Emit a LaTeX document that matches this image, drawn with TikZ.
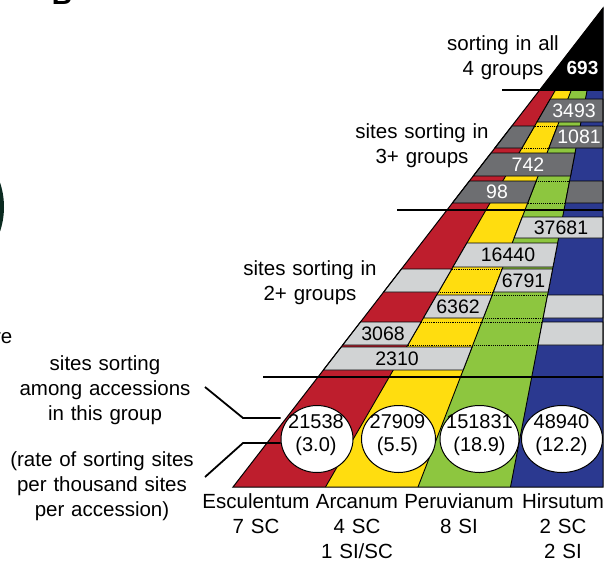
\documentclass[tikz,border=0pt]{standalone}
\usepackage{fontspec}
\setmainfont{Liberation Sans}
\usetikzlibrary{calc,shapes.geometric}
\definecolor{cred}{HTML}{BE1E2D}
\definecolor{cyel}{HTML}{FFDD0F}
\definecolor{cgrn}{HTML}{8DC63F}
\definecolor{cblu}{HTML}{2B3990}
\definecolor{dgray}{HTML}{6D6E71}
\definecolor{lgray}{HTML}{D1D3D4}
\definecolor{dkgreen}{HTML}{0B2A20}
\newcommand\labfont{\fontsize{20.5}{25}\selectfont}
\newcommand\numfont{\fontsize{19.5}{23}\selectfont}
\newcommand\ellfont{\fontsize{20}{23.5}\selectfont}
% \trap{y1}{y2}{i}{j}{style}
\newcommand\trap[5]{%
  \pgfmathsetmacro\ta{(#1-8)/479}\pgfmathsetmacro\tb{(#2-8)/479}%
  \path[#5] ($(A)!\ta!(B#3)$) -- ($(A)!\ta!(B#4)$)
    -- ($(A)!\tb!(B#4)$) -- ($(A)!\tb!(B#3)$) -- cycle;}
% \dotl{y}{i}{j}
\newcommand\dotl[3]{%
  \pgfmathsetmacro\ta{(#1-8)/479}%
  \draw[dotline] ($(A)!\ta!(B#2)$) -- ($(A)!\ta!(B#3)$);}
\begin{document}
\begin{tikzpicture}[x=1pt,y=-1pt,
  dbox/.style={fill=dgray,draw=black,line width=0.9pt,line join=miter},
  lbox/.style={fill=lgray,draw=black,line width=0.9pt,line join=miter},
  dotline/.style={black,densely dotted,line width=0.9pt},
  sepline/.style={black,line width=2pt},
  conn/.style={black,line width=1.8pt},
  lab/.style={font=\labfont,text width=220pt,align=center,inner sep=0pt,anchor=base},
  wnum/.style={font=\numfont,text=white,inner sep=0pt},
  bnum/.style={font=\numfont,text=black,inner sep=0pt},
  ell/.style={ellipse,draw=black,fill=white,line width=1pt,inner sep=0pt},
  etext/.style={font=\ellfont,text width=100pt,align=center,inner sep=0pt,anchor=base}]
\useasboundingbox (0,0) rectangle (607,563);

% partial elements at the left edge
\fill[dkgreen] (-73,207) circle[radius=77];
\node[font=\fontsize{28}{30}\selectfont\bfseries,inner sep=0pt,anchor=base] (panel) at (62,4.5) {B};
\node[font=\labfont,inner sep=0pt,anchor=base east] (cut) at (12.5,343) {re};

% triangle geometry
\coordinate (A) at (603,8);
\coordinate (B0) at (233,487);
\coordinate (B1) at (325.5,487);
\coordinate (B2) at (418,487);
\coordinate (B3) at (510.5,487);
\coordinate (B4) at (603,487);

\fill[cred] (A) -- (B0) -- (B1) -- cycle;
\fill[cyel] (A) -- (B1) -- (B2) -- cycle;
\fill[cgrn] (A) -- (B2) -- (B3) -- cycle;
\fill[cblu] (A) -- (B3) -- (B4) -- cycle;
\draw[line width=0.9pt] (A) -- (B1) (A) -- (B2) (A) -- (B3);

% all 4 groups
\pgfmathsetmacro\tz{(90.5-8)/479}
\fill[black] (A) -- ($(A)!\tz!(B0)$) -- ($(A)!\tz!(B4)$) -- cycle;

% 3+ groups
\trap{99}{122}{1}{4}{dbox}
\trap{126}{148}{0}{1}{dbox}
\trap{126}{148}{2}{4}{dbox}
\dotl{126}{1}{2}\dotl{148}{1}{2}
\trap{153}{176}{0}{3}{dbox}
\trap{181}{203}{0}{2}{dbox}
\trap{181}{203}{3}{4}{dbox}
\dotl{181}{2}{3}\dotl{203}{2}{3}

% 2+ groups
\trap{217}{238}{2}{4}{lbox}
\trap{243}{267}{1}{3}{lbox}
\trap{269}{292}{0}{1}{lbox}
\trap{269}{292}{2}{3}{lbox}
\dotl{269}{1}{2}\dotl{292}{1}{2}
\trap{295}{318}{1}{2}{lbox}
\trap{295}{318}{3}{4}{lbox}
\dotl{295}{2}{3}\dotl{318}{2}{3}
\trap{322}{345}{0}{1}{lbox}
\trap{322}{345}{3}{4}{lbox}
\dotl{322}{1}{3}\dotl{345}{1}{3}
\trap{347}{370}{0}{2}{lbox}

% outline
\draw[line width=1pt,line join=miter] (A) -- (B0) -- (B4) -- cycle;

% separators
\coordinate (s1a) at (502,90);  \coordinate (s1b) at (603,90);
\coordinate (s2a) at (397,210); \coordinate (s2b) at (603,210);
\coordinate (s3a) at (263,376.5); \coordinate (s3b) at (603,376.5);
\draw[sepline] (s1a) -- (s1b);
\draw[sepline] (s2a) -- (s2b);
\draw[sepline] (s3a) -- (s3b);

% numbers
\node[wnum,font=\fontsize{19}{23}\selectfont\bfseries] (n693) at (582.5,68.3) {693};
\node[wnum] (n3493) at (574,110.5) {3493};
\node[wnum] (n1081) at (579,137) {1081};
\node[wnum] (n742) at (528,164.5) {742};
\node[wnum] (n98) at (497,192) {98};
\node[bnum] (n37681) at (561,227.5) {37681};
\node[bnum] (n16440) at (508,255) {16440};
\node[bnum] (n6791) at (523.5,280.5) {6791};
\node[bnum] (n6362) at (458,306.5) {6362};
\node[bnum] (n3068) at (383,333.5) {3068};
\node[bnum] (n2310) at (397,358.5) {2310};

% ellipses
\node[ell,minimum width=72pt,minimum height=67pt] (e1) at (317,439) {};
\node[ell,minimum width=74pt,minimum height=67pt] (e2) at (398.5,439) {};
\node[ell,minimum width=79pt,minimum height=67pt] (e3) at (479.5,439) {};
\node[ell,minimum width=81pt,minimum height=67pt] (e4) at (562,439) {};
\node[etext] (x1) at (316,428) {21538\\(3.0)};
\node[etext] (x2) at (397.5,428) {27909\\(5.5)};
\node[etext] (x3) at (479.5,428) {151831\\(18.9)};
\node[etext] (x4) at (561.5,428) {48940\\(12.2)};

% labels
\node[lab] (t4) at (503,50) {sorting in all\\4 groups};
\node[lab] (t3) at (422,138) {sites sorting in\\3+ groups};
\node[lab] (t2) at (310,275) {sites sorting in\\2+ groups};
\node[lab] (tl1) at (105,370.5) {sites sorting\\among accessions\\in this group};
\node[lab] (tl2) at (102,466) {(rate of sorting sites\\per thousand sites\\per accession)};
\node[lab] (g1) at (256,508) {Esculentum\\7 SC};
\node[lab] (g2) at (357,508) {Arcanum\\4 SC\\1 SI/SC};
\node[lab] (g3) at (459,508) {Peruvianum\\8 SI};
\node[lab] (g4) at (563,508) {Hirsutum\\2 SC\\2 SI};

% connectors
\coordinate (c1s) at (205,387);
\coordinate (c1m) at (243,418);
\coordinate (c2s) at (205,477);
\coordinate (c2m) at (243,443);
\draw[conn] (c1s) -- (c1m) -- (e1.west |- c1m);
\draw[conn] (c2s) -- (c2m) -- (e1.west |- c2m);
\end{tikzpicture}
\end{document}
